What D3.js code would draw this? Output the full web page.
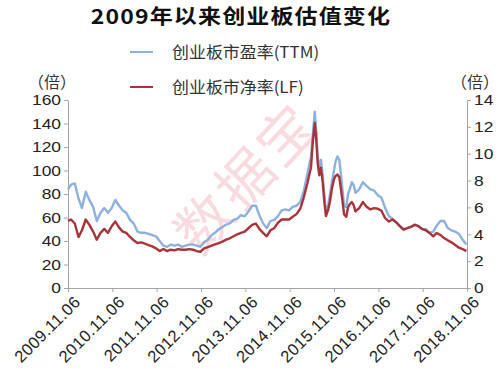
<!DOCTYPE html>
<html>
<head>
<meta charset="utf-8">
<script src="https://cdn.jsdelivr.net/npm/d3@7"></script>
<style>
  body { margin: 0; background: #fff; }
  text { font-family: Arial, "Liberation Sans", "Noto Sans CJK SC", sans-serif; }
</style>
</head>
<body>
<div id="hook-chart"></div>
<script>
'use strict';

// dates of each reading
var dates = [
  '2009-11-06','2009-12-01','2010-01-01','2010-02-01','2010-03-01','2010-04-01','2010-05-01','2010-06-01',
  '2010-07-01','2010-08-01','2010-09-01','2010-10-01','2010-11-01','2010-12-01','2011-01-01','2011-02-01',
  '2011-03-01','2011-04-01','2011-05-01','2011-06-01','2011-07-01','2011-08-01','2011-09-01','2011-10-01',
  '2011-11-01','2011-12-01','2012-01-01','2012-02-01','2012-03-01','2012-04-01','2012-05-01','2012-06-01',
  '2012-07-01','2012-08-01','2012-09-01','2012-10-01','2012-11-01','2012-12-01','2013-01-01','2013-02-01',
  '2013-03-01','2013-04-01','2013-05-01','2013-06-01','2013-07-01','2013-08-01','2013-09-01','2013-10-01',
  '2013-11-01','2013-12-01','2014-01-01','2014-02-01','2014-03-01','2014-04-01','2014-05-01','2014-06-01',
  '2014-07-01','2014-08-01','2014-09-01','2014-10-01','2014-11-01','2014-12-01','2015-01-01','2015-02-01',
  '2015-03-01','2015-04-01','2015-05-01','2015-05-15','2015-06-01','2015-06-12','2015-06-25','2015-07-08',
  '2015-07-22','2015-08-05','2015-08-20','2015-09-01','2015-09-20','2015-10-05','2015-10-20','2015-11-06',
  '2015-11-20','2015-12-05','2015-12-20','2016-01-05','2016-01-15','2016-01-28','2016-02-15','2016-03-01',
  '2016-03-15','2016-04-01','2016-04-15','2016-05-01','2016-06-01','2016-07-01','2016-08-01','2016-09-01',
  '2016-10-01','2016-11-01','2016-12-01','2017-01-01','2017-02-01','2017-03-01','2017-04-01','2017-05-01',
  '2017-06-01','2017-07-01','2017-08-01','2017-09-01','2017-10-01','2017-11-01','2017-12-01','2018-01-01',
  '2018-02-01','2018-03-01','2018-04-01','2018-05-01','2018-06-01','2018-07-01','2018-08-01','2018-09-01',
  '2018-10-01','2018-11-01'
];

// 创业板市盈率(TTM), left axis
var peTTM = [
  84, 88, 89, 76, 68, 82, 75, 69,
  57, 64, 68, 64, 68, 75, 70, 66,
  64, 58, 55, 48, 47, 47, 46, 45,
  44, 40, 36, 35, 37, 36, 37, 35,
  36, 37, 37, 36, 35, 39, 41, 45,
  47, 50, 52, 54, 55, 58, 59, 62,
  61, 65, 70, 70, 62, 55, 51, 57,
  58, 61, 66, 67, 66, 69, 70, 73,
  82, 97, 112, 130, 150, 135, 112, 103,
  109, 96, 78, 65, 71, 80, 90, 100,
  108, 112, 109, 94, 84, 70, 69, 80,
  84, 90, 88, 81, 84, 90, 87, 84,
  83, 79, 77, 68, 61, 59, 56, 53,
  50, 51, 52, 54, 53, 50, 50, 47,
  48, 53, 57, 57, 51, 49, 48, 46,
  41, 37
];

// 创业板市净率(LF), right axis
var pbLF = [
  5.0, 5.1, 4.8, 3.8, 4.3, 5.1, 4.7, 4.2,
  3.6, 4.1, 4.4, 4.1, 4.6, 4.95, 4.5, 4.2,
  4.1, 3.8, 3.55, 3.35, 3.4, 3.3, 3.2, 3.1,
  2.95, 2.75, 2.9, 2.75, 2.85, 2.8, 2.9, 2.85,
  2.85, 2.9, 2.85, 2.75, 2.7, 2.95, 3.05, 3.15,
  3.25, 3.35, 3.45, 3.6, 3.7, 3.85, 4.0, 4.1,
  4.2, 4.45, 4.7, 4.8, 4.4, 4.1, 3.85, 4.3,
  4.45, 4.85, 5.1, 5.1, 5.1, 5.3, 5.5, 5.9,
  6.7, 7.8, 9.0, 10.8, 12.3, 11.2, 9.3, 8.4,
  8.95, 7.9, 6.3, 5.35, 5.85, 6.5, 7.4, 8.1,
  8.35, 8.45, 8.25, 7.2, 6.5, 5.5, 5.3, 6.0,
  6.25, 6.4, 6.2, 5.7, 5.95, 6.4, 6.05, 5.85,
  5.95, 5.9, 5.75, 5.2, 4.95, 5.1, 4.9, 4.6,
  4.34, 4.45, 4.55, 4.7, 4.6, 4.4, 4.3, 4.1,
  3.85, 4.1, 3.95, 3.72, 3.55, 3.4, 3.2, 3.0,
  2.9, 2.75
];

var tickDates = ['2009-11-06','2010-11-06','2011-11-06','2012-11-06','2013-11-06',
  '2014-11-06','2015-11-06','2016-11-06','2017-11-06','2018-11-06'];
var leftTicks = [0, 20, 40, 60, 80, 100, 120, 140, 160];
var rightTicks = [0, 2, 4, 6, 8, 10, 12, 14];

var title = '2009年以来创业板估值变化';
var seriesNames = ['创业板市盈率(TTM)', '创业板市净率(LF)'];

(function() {

var options = {
  width: 500,
  height: 372,
  left: 68,
  right: 467,
  top: 100,
  bottom: 288,
  stretch: 1.16,
  blue: '#8cb1de',
  red: '#a8343a',
  axis: '#a6a6a6'
};

function update(options) {
  var parse = d3.timeParse('%Y-%m-%d');
  var fmt = d3.timeFormat('%Y.%m.%d');
  var st = 'scale(' + options.stretch + ',1)';

  var svg = d3.select('#hook-chart')
    .append('svg')
    .attr('width', options.width)
    .attr('height', options.height);

  var x = d3.scaleTime()
    .domain([parse(tickDates[0]), parse(tickDates[tickDates.length-1])])
    .range([options.left, options.right]);
  var yL = d3.scaleLinear().domain([0, 160]).range([options.bottom, options.top]);
  var yR = d3.scaleLinear().domain([0, 14]).range([options.bottom, options.top]);

  // watermark
  svg.append('text')
    .attr('transform', 'translate(247,178) rotate(-47)')
    .attr('text-anchor', 'middle')
    .attr('dy', '0.35em')
    .style('font-family', '"Noto Sans CJK SC", sans-serif')
    .style('font-size', '56px')
    .style('letter-spacing', '4px')
    .style('fill', '#f2a5ad')
    .style('opacity', 0.4)
    .text('数据宝');

  // title
  svg.append('text')
    .attr('transform', 'translate(241,23.5) scale(1.15,1)')
    .attr('text-anchor', 'middle')
    .style('font-family', '"Noto Sans CJK SC", sans-serif')
    .style('font-weight', 'bold')
    .style('font-size', '20px')
    .style('letter-spacing', '1px')
    .style('fill', '#111')
    .text(title);

  // legend
  var colors = [options.blue, options.red];
  seriesNames.forEach(function(n, i) {
    var ly = 52 + i * 35;
    svg.append('line')
      .attr('x1', 130).attr('x2', 153)
      .attr('y1', ly).attr('y2', ly)
      .style('stroke', colors[i])
      .style('stroke-width', 2);
    svg.append('text')
      .attr('transform', 'translate(172,' + (ly + 6) + ') scale(1.06,1)')
      .style('font-family', '"Noto Sans CJK SC", sans-serif')
      .style('font-size', '16px')
      .style('fill', '#333')
      .text(n);
  });

  // units
  [[52, '（倍）'], [475, '（倍）']].forEach(function(u) {
    svg.append('text')
      .attr('x', u[0])
      .attr('y', 88)
      .attr('text-anchor', 'middle')
      .style('font-family', '"Noto Sans CJK SC", sans-serif')
      .style('font-size', '16px')
      .style('fill', '#333')
      .text(u[1]);
  });

  // axes
  var gx = svg.append('g')
    .attr('transform', 'translate(0,' + options.bottom + ')')
    .call(d3.axisBottom(x).tickValues(tickDates.map(parse)).tickFormat(fmt).tickSize(4).tickSizeOuter(0));

  var gl = svg.append('g')
    .attr('transform', 'translate(' + options.left + ',0)')
    .call(d3.axisLeft(yL).tickValues(leftTicks).tickSize(4).tickSizeOuter(0).tickPadding(3));

  var gr = svg.append('g')
    .attr('transform', 'translate(' + options.right + ',0)')
    .call(d3.axisRight(yR).tickValues(rightTicks).tickSize(4).tickSizeOuter(0).tickPadding(3));

  [gl, gr].forEach(function(g) {
    g.selectAll('.tick text').each(function() {
      var t = d3.select(this);
      var tx = +t.attr('x');
      t.attr('x', 0).attr('transform', 'translate(' + tx + ',0) ' + st);
    });
  });

  [gx, gl, gr].forEach(function(g) {
    g.select('.domain').style('stroke', options.axis);
    g.selectAll('.tick line').style('stroke', options.axis);
    g.selectAll('text')
      .style('font-family', 'Arial, "Liberation Sans", sans-serif')
      .style('font-size', '15px')
      .style('fill', '#222');
  });

  gx.selectAll('text')
    .attr('text-anchor', 'end')
    .attr('transform', 'translate(9,11) rotate(-45)')
    .attr('dy', '0.35em')
    .attr('y', 0)
    .attr('x', 0)
    .style('font-size', '16.5px')
    .style('letter-spacing', '0.4px');

  // lines
  var pts = dates.map(function(d, i) {
    return { date: parse(d), pe: peTTM[i], pb: pbLF[i] };
  });

  svg.append('path')
    .datum(pts)
    .attr('d', d3.line().x(function(d) { return x(d.date); }).y(function(d) { return yL(d.pe); }))
    .style('fill', 'none')
    .style('stroke', options.blue)
    .style('stroke-width', 2.4)
    .style('stroke-linejoin', 'round');

  svg.append('path')
    .datum(pts)
    .attr('d', d3.line().x(function(d) { return x(d.date); }).y(function(d) { return yR(d.pb); }))
    .style('fill', 'none')
    .style('stroke', options.red)
    .style('stroke-width', 2.4)
    .style('stroke-linejoin', 'round');
}

update(options);

}());
</script>
</body>
</html>
